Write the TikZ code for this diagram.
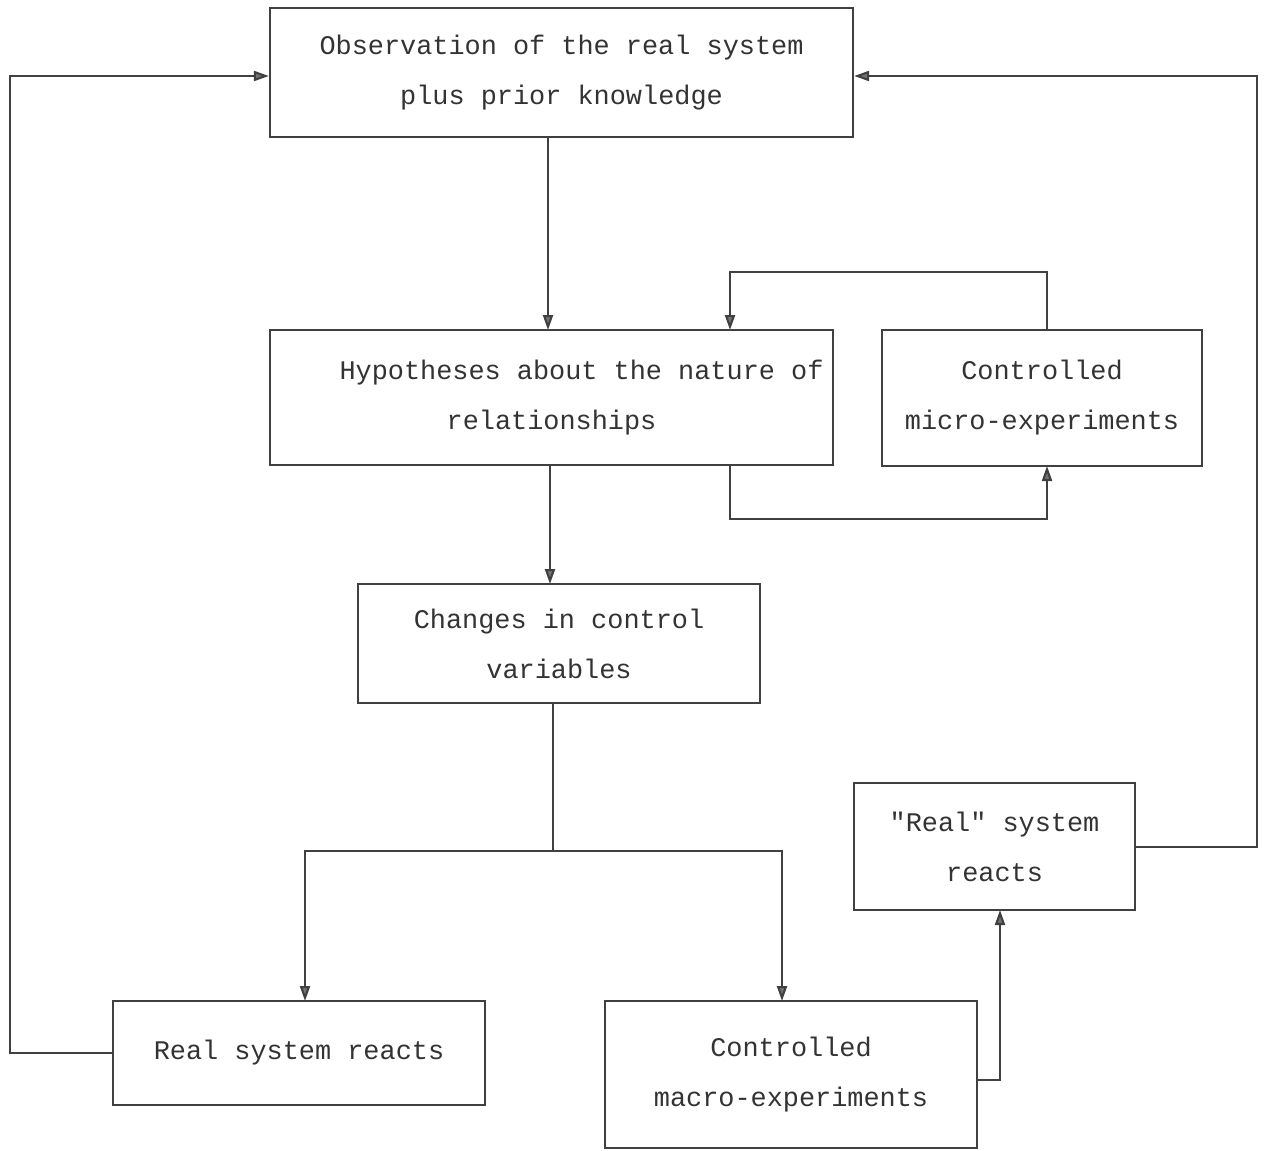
\documentclass[tikz,border=0pt]{standalone}
\usepackage{fontspec}
\setmonofont{Liberation Mono}
\usetikzlibrary{arrows.meta}
\begin{document}
\begin{tikzpicture}[x=0.02cm,y=-0.02cm,
  box/.style={draw=black!75, line width=1.3pt, inner sep=0pt, align=center,
    font=\ttfamily\fontsize{15.3}{28.5}\selectfont, text=black!80},
  conn/.style={draw=black!75, line width=1.2pt,
    -{Triangle[length=0.3cm,width=0.2cm,fill=black!55]}},
  plain/.style={draw=black!75, line width=1.2pt}]
\useasboundingbox (0,0) rectangle (1266,1150);
\node[box, minimum width=583*0.02cm, minimum height=129*0.02cm] (obs) at (561.5,72.5)
  {Observation of the real system\\plus prior knowledge};
\node[box, minimum width=563*0.02cm, minimum height=135*0.02cm] (hyp) at (551.5,397.5)
  {\hspace*{1.2cm}Hypotheses about the nature of\\relationships};
\node[box, minimum width=320*0.02cm, minimum height=136*0.02cm] (mic) at (1042,398)
  {Controlled\\micro-experiments};
\node[box, minimum width=402*0.02cm, minimum height=119*0.02cm] (chg) at (559,643.5)
  {Changes in control\\variables};
\node[box, minimum width=281*0.02cm, minimum height=127*0.02cm] (rsr) at (994.5,846.5)
  {"Real" system\\reacts};
\node[box, minimum width=372*0.02cm, minimum height=104*0.02cm] (real) at (299,1053)
  {Real system reacts};
\node[box, minimum width=372*0.02cm, minimum height=147*0.02cm] (mac) at (791,1074.5)
  {Controlled\\macro-experiments};
% coordinates
\coordinate (c1) at (548,137);
\coordinate (c2) at (548,330);
\coordinate (c3) at (550,465);
\coordinate (c4) at (550,584);
% obs -> hyp
\draw[conn] (c1) -- (c2);
% hyp -> changes
\draw[conn] (c3) -- (c4);
% hyp -> micro (bottom loop)
\coordinate (h1) at (730,465);
\coordinate (m1) at (1047,466);
\draw[conn] (h1) -- (730,519) -- (1047,519) -- (m1);
% micro -> hyp (top loop)
\coordinate (m2) at (1047,330);
\coordinate (h2) at (730,330);
\draw[conn] (m2) -- (1047,272) -- (730,272) -- (h2);
% changes -> branches
\coordinate (g1) at (553,703);
\coordinate (j) at (553,851);
\draw[plain] (g1) -- (j);
\coordinate (rt) at (305,1001);
\coordinate (mt) at (782,1001);
\draw[conn] (j) -- (305,851) -- (rt);
\draw[conn] (j) -- (782,851) -- (mt);
% real system reacts -> obs
\draw[conn] (real.west) -- (10,1053) -- (10,76) -- (obs.west |- 0,76);
% macro -> "real"
\coordinate (mr) at (977,1080);
\coordinate (rb) at (1000,910);
\draw[conn] (mr) -- (1000,1080) -- (rb);
% "real" -> obs
\coordinate (rr) at (1135,847);
\draw[conn] (rr) -- (1257,847) -- (1257,76) -- (obs.east |- 0,76);
\end{tikzpicture}
\end{document}
